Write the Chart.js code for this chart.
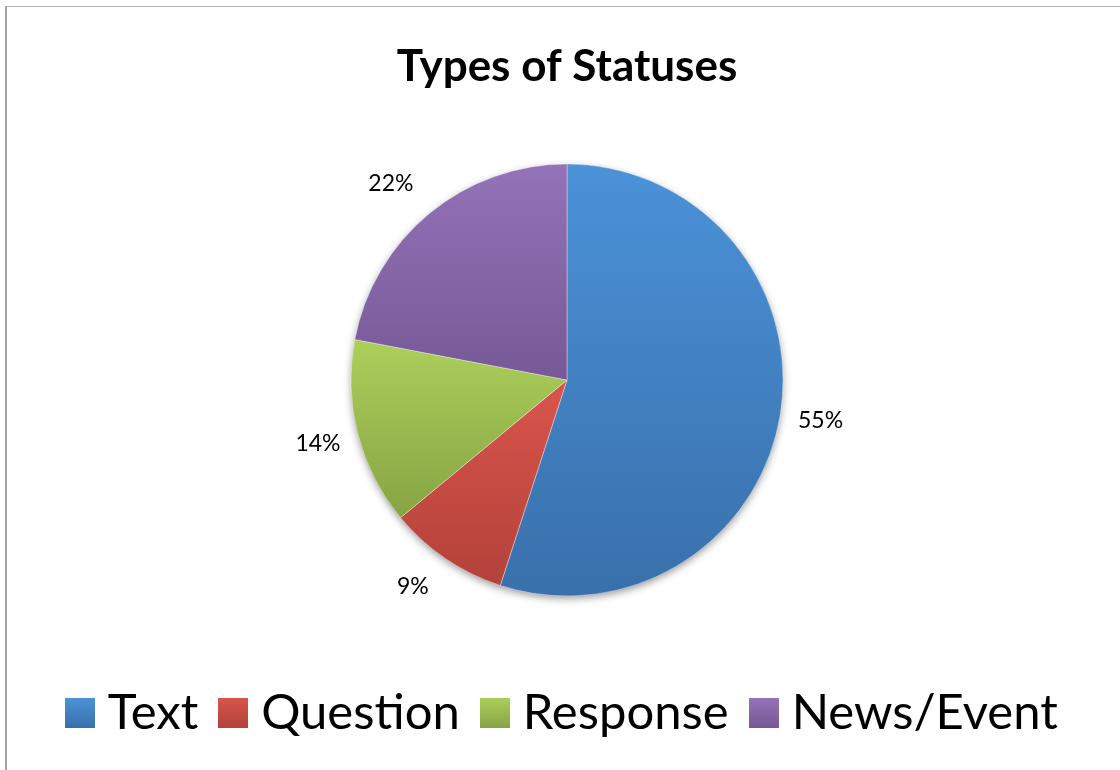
<!DOCTYPE html>
<html>
<head>
<meta charset="utf-8">
<script src="https://cdn.jsdelivr.net/npm/chart.js@4/dist/chart.umd.min.js"></script>
<style>
  html, body { margin: 0; padding: 0; background: #ffffff; }
  #wrap { position: relative; width: 1120px; height: 770px; }
</style>
</head>
<body>
<div id="wrap"><canvas id="c" width="1120" height="770"></canvas></div>
<script>
const titleText = 'Types of Statuses';
const categories = ['Text', 'Question', 'Response', 'News/Event'];
const shares = [55, 9, 14, 22];
const topColors = ['#4b92d8', '#d9554c', '#accf5b', '#9473b8'];
const bottomColors = ['#3970ab', '#b3423a', '#87a443', '#765996'];

const PIE_RADIUS = 216;

function sliceAngles(i) {
  const total = shares.reduce((a, b) => a + b, 0);
  let before = 0;
  for (let k = 0; k < i; k++) before += shares[k];
  const s = -Math.PI / 2 + 2 * Math.PI * before / total;
  const e = s + 2 * Math.PI * shares[i] / total;
  return [s, e];
}

function sliceGradient(context) {
  const chart = context.chart;
  const ca = chart.chartArea;
  const i = context.dataIndex;
  if (!ca || i === undefined) return topColors[i || 0];
  const cx = (ca.left + ca.right) / 2, cy = (ca.top + ca.bottom) / 2;
  const [s, e] = sliceAngles(i);
  const ys = [cy, cy + PIE_RADIUS * Math.sin(s), cy + PIE_RADIUS * Math.sin(e)];
  for (const a of [-Math.PI / 2, Math.PI / 2, 3 * Math.PI / 2]) {
    if (a >= s && a <= e) ys.push(cy + PIE_RADIUS * Math.sin(a));
  }
  const y0 = Math.min(...ys), y1 = Math.max(...ys);
  const g = chart.ctx.createLinearGradient(0, y0, 0, y1);
  g.addColorStop(0, topColors[i]);
  g.addColorStop(1, bottomColors[i]);
  return g;
}

function legendSwatch(i) {
  const c = document.createElement('canvas');
  c.width = 30; c.height = 30;
  const x = c.getContext('2d');
  const g = x.createLinearGradient(0, 0, 0, 30);
  g.addColorStop(0, topColors[i]);
  g.addColorStop(1, bottomColors[i]);
  x.fillStyle = g;
  x.fillRect(0, 0, 30, 30);
  return c;
}
const swatches = categories.map((_, i) => legendSwatch(i));

const framePlugin = {
  id: 'frame',
  beforeDraw(chart) {
    const ctx = chart.ctx;
    ctx.save();
    ctx.fillStyle = '#ffffff';
    ctx.fillRect(0, 0, chart.width, chart.height);
    ctx.fillStyle = '#b4b4b4';
    ctx.fillRect(6, 6, chart.width - 6, 1);
    ctx.fillStyle = '#a4a4a4';
    ctx.fillRect(5, 6, 2, chart.height - 6);
    ctx.restore();
  }
};

const shadowPlugin = {
  id: 'pieShadow',
  beforeDatasetsDraw(chart) {
    const arc = chart.getDatasetMeta(0).data[0];
    if (!arc) return;
    const ctx = chart.ctx;
    ctx.save();
    ctx.shadowColor = 'rgba(0,0,0,0.45)';
    ctx.shadowBlur = 9;
    ctx.shadowOffsetX = 0;
    ctx.shadowOffsetY = 3;
    ctx.fillStyle = '#ffffff';
    ctx.beginPath();
    ctx.arc(arc.x, arc.y, arc.outerRadius - 1, 0, Math.PI * 2);
    ctx.fill();
    ctx.restore();
  }
};

const labelPlugin = {
  id: 'outsideLabels',
  afterDatasetsDraw(chart) {
    const ctx = chart.ctx;
    const meta = chart.getDatasetMeta(0);
    const total = shares.reduce((a, b) => a + b, 0);
    ctx.save();
    ctx.font = '23px Lato, "Open Sans", sans-serif';
    ctx.fillStyle = '#000000';
    ctx.textAlign = 'center';
    ctx.textBaseline = 'middle';
    meta.data.forEach((arc, i) => {
      const txt = Math.round(shares[i] / total * 100) + '%';
      const mid = (arc.startAngle + arc.endAngle) / 2;
      const dx = Math.cos(mid), dy = Math.sin(mid);
      const hw = ctx.measureText(txt).width / 2, hh = 9;
      const d = arc.outerRadius + 17 + hw * Math.abs(dx) + hh * Math.abs(dy);
      const sx = (dx < -0.3 && Math.abs(dy) > 0.5) ? -14 : 0;
      ctx.fillText(txt, arc.x + dx * d + sx, arc.y + dy * d);
    });
    ctx.restore();
  }
};

new Chart(document.getElementById('c'), {
  type: 'pie',
  data: {
    labels: categories,
    datasets: [{
      data: shares,
      backgroundColor: sliceGradient,
      borderColor: 'rgba(255,255,255,0.35)',
      borderWidth: 1,
      radius: PIE_RADIUS
    }]
  },
  options: {
    responsive: false,
    animation: false,
    devicePixelRatio: 1,
    layout: { padding: { top: 0, bottom: 22.5, left: 14, right: 0 } },
    plugins: {
      title: {
        display: true,
        text: titleText,
        color: '#000000',
        font: { family: 'Lato, "Open Sans", sans-serif', size: 44, weight: 'bold', lineHeight: 1.2 },
        padding: { top: 40, bottom: 10.2 }
      },
      legend: {
        display: true,
        position: 'bottom',
        labels: {
          color: '#000000',
          font: { family: 'Lato, "Open Sans", sans-serif', size: 49 },
          usePointStyle: true,
          pointStyleWidth: 7,
          boxHeight: 30,
          padding: 31.5,
          generateLabels(chart) {
            return categories.map((name, i) => ({
              text: name,
              fillStyle: topColors[i],
              strokeStyle: topColors[i],
              lineWidth: 0,
              pointStyle: swatches[i],
              hidden: false,
              index: i
            }));
          }
        }
      },
      tooltip: { enabled: false }
    }
  },
  plugins: [framePlugin, shadowPlugin, labelPlugin]
});
</script>
</body>
</html>
